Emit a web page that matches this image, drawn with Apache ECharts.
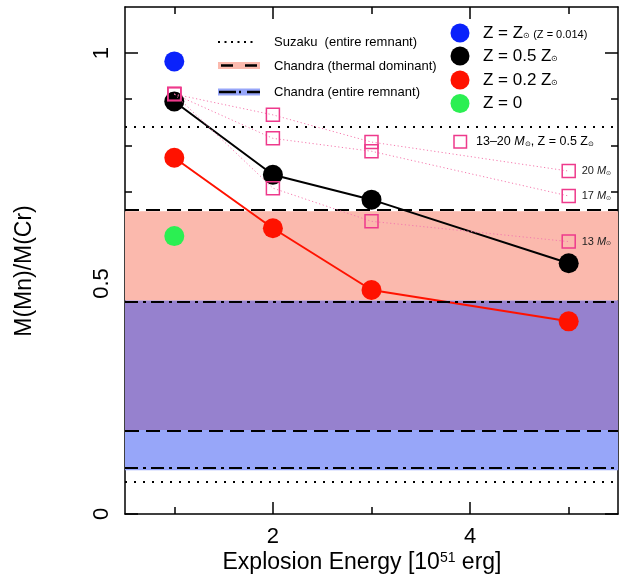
<!DOCTYPE html>
<html>
<head>
<meta charset="utf-8">
<script src="https://cdn.jsdelivr.net/npm/echarts@6/dist/echarts.min.js"></script>
<style>
html,body{margin:0;padding:0;background:#fff;}
#chart{width:623px;height:576px;}
</style>
</head>
<body>
<div id="chart"></div>
<script>
// ---- data ----
var energies = [1, 2, 3, 5];
var solarZ = [0.982];            // Z = Zsun at E = 1
var zeroZ = [0.603];             // Z = 0 at E = 1
var halfZ = [0.895, 0.736, 0.682, 0.544];
var fifthZ = [0.773, 0.620, 0.486, 0.418];
var mass20 = [0.911, 0.866, 0.807, 0.744];
var mass17 = [0.911, 0.815, 0.787, 0.690];
var mass13 = [0.911, 0.707, 0.635, 0.591];
var suzakuLines = [0.073, 0.844];
var thermalBand = [0.182, 0.657];
var entireBand = [0.095, 0.463];
var xMajorTicks = [2, 4];
var xMinorTicks = [1, 3, 5];
var yMajorTicks = [0, 0.5, 1];
var yMinorTicks = [0.1, 0.2, 0.3, 0.4, 0.6, 0.7, 0.8, 0.9];

var FONT = 'Liberation Sans';
var PINK = '#ee3a8c';

function pairs(xs, ys) { return ys.map(function (v, i) { return [xs[i], v]; }); }

var overlap = [Math.max(thermalBand[0], entireBand[0]), Math.min(thermalBand[1], entireBand[1])];

function xAxisDef(pos, ticks, len, showLine, showLabel) {
  return {
    type: 'value', min: 0.5, max: 5.5, position: pos,
    axisLine: {show: showLine, onZero: false, lineStyle: {color: '#000', width: 1.5}},
    axisTick: {show: true, inside: true, length: len, customValues: ticks, lineStyle: {color: '#000', width: 1.5}},
    axisLabel: {show: showLabel, customValues: ticks, fontSize: 22, fontFamily: FONT, color: '#000', margin: 12},
    splitLine: {show: false}
  };
}
function yAxisDef(pos, ticks, len, showLine, showLabel) {
  return {
    type: 'value', min: 0, max: 1.1, position: pos,
    axisLine: {show: showLine, onZero: false, lineStyle: {color: '#000', width: 1.5}},
    axisTick: {show: true, inside: true, length: len, customValues: ticks, lineStyle: {color: '#000', width: 1.5}},
    axisLabel: {show: showLabel, customValues: ticks, fontSize: 22, fontFamily: FONT, color: '#000', margin: 12, rotate: 90,
      formatter: function (v) { return String(v); }},
    splitLine: {show: false}
  };
}

var sunRich = {
  s: {fontSize: 8, fontFamily: FONT, color: '#000', padding: [6, 0, 0, 0]},
  m: {fontSize: 17, fontFamily: FONT, color: '#000'},
  n: {fontSize: 11, fontFamily: FONT, color: '#000', padding: [3, 0, 0, 0]}
};
var smallRich = {
  t: {fontSize: 11, fontFamily: FONT, color: '#222'},
  i: {fontSize: 11, fontFamily: FONT, fontStyle: 'italic', color: '#222'},
  s: {fontSize: 6, fontFamily: FONT, color: '#222', padding: [4, 0, 0, 0]}
};
var legRich = {
  t: {fontSize: 12.5, fontFamily: FONT, color: '#222'},
  i: {fontSize: 12.5, fontFamily: FONT, fontStyle: 'italic', color: '#222'},
  s: {fontSize: 7, fontFamily: FONT, color: '#222', padding: [5, 0, 0, 0]}
};

function pinkSeries(name, vals, label) {
  return {
    name: name, type: 'line', data: pairs(energies, vals), z: 5,
    symbol: 'rect', symbolSize: 13,
    itemStyle: {color: 'rgba(0,0,0,0)', borderColor: PINK, borderWidth: 1.5},
    lineStyle: {color: '#f57aae', width: 1, type: [1.2, 2.5]},
    endLabel: {show: true, distance: 13, formatter: '{t|' + label + ' }{i|M}{s|⊙}', rich: smallRich},
    emphasis: {disabled: true}, animation: false
  };
}

var option = {
  animation: false,
  grid: {left: 125, right: 5, top: 7, bottom: 62, containLabel: false},
  xAxis: [
    xAxisDef('bottom', xMajorTicks, 12, true, true),
    xAxisDef('bottom', xMinorTicks, 7, false, false),
    xAxisDef('top', xMajorTicks, 12, true, false),
    xAxisDef('top', xMinorTicks, 7, false, false)
  ],
  yAxis: [
    yAxisDef('left', yMajorTicks, 13, true, true),
    yAxisDef('left', yMinorTicks, 7, false, false),
    yAxisDef('right', yMajorTicks, 13, true, false),
    yAxisDef('right', yMinorTicks, 7, false, false)
  ],
  series: [
    {
      type: 'line', data: [], z: 1, silent: true,
      markArea: {
        silent: true,
        data: [
          [{yAxis: overlap[1], itemStyle: {color: '#fbb9ad'}}, {yAxis: thermalBand[1]}],
          [{yAxis: overlap[0], itemStyle: {color: '#9681ce'}}, {yAxis: overlap[1]}],
          [{yAxis: entireBand[0], itemStyle: {color: '#97a6f9'}}, {yAxis: overlap[0]}]
        ]
      },
      markLine: {
        silent: true, symbol: ['none', 'none'], label: {show: false},
        data: [].concat(
          suzakuLines.map(function (v) { return {yAxis: v, lineStyle: {type: [2, 7], width: 2, color: '#000'}}; }),
          thermalBand.map(function (v) { return {yAxis: v, lineStyle: {type: [14, 7], width: 2, color: '#000'}}; }),
          entireBand.map(function (v) { return {yAxis: v, lineStyle: {type: [13, 5, 3, 5], width: 2, color: '#000'}}; })
        )
      }
    },
    {name: 'Z = Zsun', type: 'scatter', data: pairs(energies, solarZ), symbolSize: 20, z: 3,
      itemStyle: {color: '#0a22fb', opacity: 1}},
    {name: 'Z = 0', type: 'scatter', data: pairs(energies, zeroZ), symbolSize: 20, z: 3,
      itemStyle: {color: '#2bef52', opacity: 1}},
    {name: 'Z = 0.2 Zsun', type: 'line', data: pairs(energies, fifthZ), symbol: 'circle', symbolSize: 20, z: 3,
      itemStyle: {color: '#ff1200'}, lineStyle: {color: '#ff1200', width: 2}},
    {name: 'Z = 0.5 Zsun', type: 'line', data: pairs(energies, halfZ), symbol: 'circle', symbolSize: 20, z: 4,
      itemStyle: {color: '#000'}, lineStyle: {color: '#000', width: 2}},
    pinkSeries('20', mass20, '20'),
    pinkSeries('17', mass17, '17'),
    pinkSeries('13', mass13, '13')
  ],
  graphic: [
    // axis names
    {type: 'text', x: 25, y: 271, rotation: Math.PI / 2,
      style: {text: 'M(Mn)/M(Cr)', fontSize: 23, fontFamily: FONT, fill: '#000', align: 'center', verticalAlign: 'middle'}},
    {type: 'text', x: 362, y: 563,
      style: {text: '{m|Explosion Energy [10}{p|51}{m| erg]}', align: 'center', verticalAlign: 'middle',
        rich: {m: {fontSize: 23, fontFamily: FONT, fill: '#000', lineHeight: 26},
               p: {fontSize: 14, fontFamily: FONT, fill: '#000', lineHeight: 26, padding: [0, 0, 10, 0]}}}},
    // left legend
    {type: 'line', shape: {x1: 218, y1: 42, x2: 255, y2: 42}, style: {stroke: '#000', lineWidth: 2, lineDash: [2, 4.5]}},
    {type: 'text', x: 274, y: 42, style: {text: 'Suzaku  (entire remnant)', fontSize: 13, fontFamily: FONT, fill: '#000', verticalAlign: 'middle'}},
    {type: 'rect', shape: {x: 218, y: 62, width: 42, height: 7}, style: {fill: '#fbb9ad'}},
    {type: 'line', shape: {x1: 221, y1: 65.5, x2: 257, y2: 65.5}, style: {stroke: '#000', lineWidth: 2.5, lineDash: [12, 12]}},
    {type: 'text', x: 274, y: 66, style: {text: 'Chandra (thermal dominant)', fontSize: 13, fontFamily: FONT, fill: '#000', verticalAlign: 'middle'}},
    {type: 'rect', shape: {x: 218, y: 88.5, width: 42, height: 7}, style: {fill: '#97a6f9'}},
    {type: 'line', shape: {x1: 219, y1: 92, x2: 260, y2: 92}, style: {stroke: '#000', lineWidth: 2.5, lineDash: [17, 3, 2, 6]}},
    {type: 'text', x: 274, y: 92, style: {text: 'Chandra (entire remnant)', fontSize: 13, fontFamily: FONT, fill: '#000', verticalAlign: 'middle'}},
    // right legend
    {type: 'circle', shape: {cx: 460, cy: 33, r: 9.5}, style: {fill: '#0a22fb'}},
    {type: 'text', x: 483, y: 33, style: {text: '{m|Z = Z}{s|⊙}{n| (Z = 0.014)}', verticalAlign: 'middle', rich: sunRich}},
    {type: 'circle', shape: {cx: 460, cy: 56, r: 9.5}, style: {fill: '#000'}},
    {type: 'text', x: 483, y: 56, style: {text: '{m|Z = 0.5 Z}{s|⊙}', verticalAlign: 'middle', rich: sunRich}},
    {type: 'circle', shape: {cx: 460, cy: 80, r: 9.5}, style: {fill: '#ff1200'}},
    {type: 'text', x: 483, y: 80, style: {text: '{m|Z = 0.2 Z}{s|⊙}', verticalAlign: 'middle', rich: sunRich}},
    {type: 'circle', shape: {cx: 460, cy: 103.5, r: 9.5}, style: {fill: '#2bef52'}},
    {type: 'text', x: 483, y: 103.5, style: {text: '{m|Z = 0}', verticalAlign: 'middle', rich: sunRich}},
    {type: 'rect', shape: {x: 454, y: 135.5, width: 12.5, height: 12.5}, style: {fill: 'none', stroke: PINK, lineWidth: 1.5}},
    {type: 'text', x: 476, y: 142, style: {text: '{t|13–20 }{i|M}{s|⊙}{t|, Z = 0.5 Z}{s|⊙}', verticalAlign: 'middle', rich: legRich}}
  ]
};

var chart = echarts.init(document.getElementById('chart'), null, {renderer: 'canvas'});
chart.setOption(option);
</script>
</body>
</html>
